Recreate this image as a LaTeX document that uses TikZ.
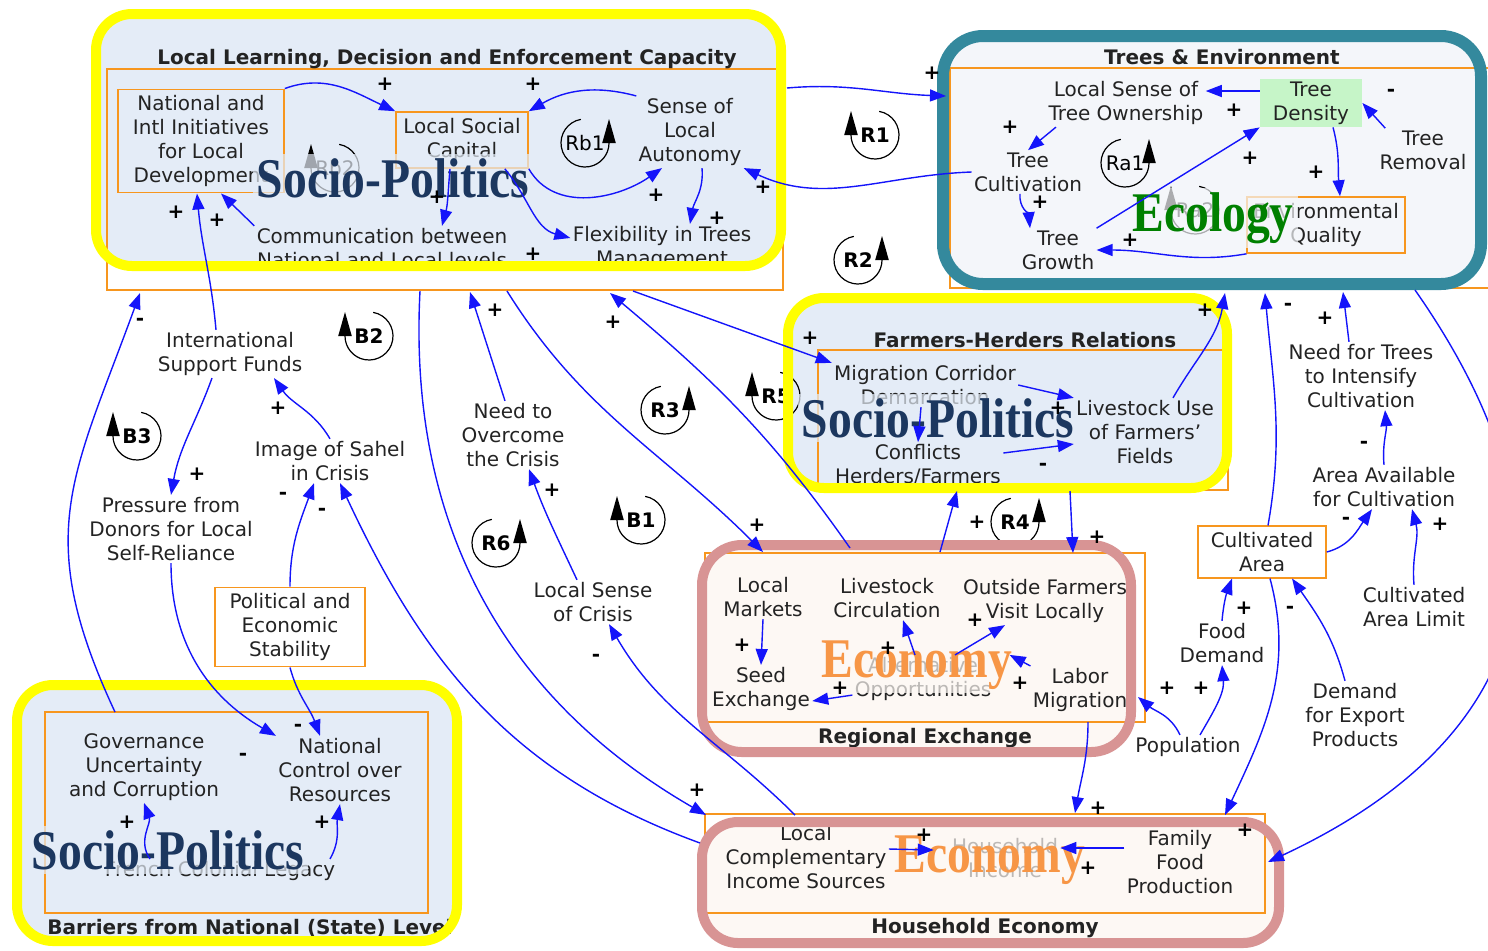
\documentclass[tikz,border=0pt]{standalone}
\usepackage{fontspec}
\setmainfont{DejaVu Sans}
\newfontfamily\wmfont{Liberation Serif}
\usetikzlibrary{arrows.meta,calc}

\definecolor{linkblue}{RGB}{20,20,250}
\definecolor{hiyellow}{RGB}{255,255,0}
\definecolor{ecoteal}{RGB}{52,137,157}
\definecolor{econpink}{RGB}{216,148,148}
\definecolor{frameorange}{RGB}{247,150,30}
\definecolor{panelblue}{RGB}{228,236,247}
\definecolor{panelgrey}{RGB}{244,246,250}
\definecolor{panelpink}{RGB}{253,248,244}
\definecolor{densgreen}{RGB}{198,245,200}
\definecolor{polnavy}{RGB}{28,55,95}
\definecolor{ecogreen}{RGB}{0,128,0}
\definecolor{econorange}{RGB}{247,150,70}
\definecolor{vartext}{RGB}{35,35,35}

% loop markers: arrow head on the right / on the left
\newcommand{\loopccw}[3]{%
  \node[looptext] (#1) at (#2) {#3};
  \draw[loopline] ($(#1)+(100:12pt)$) arc[start angle=100,end angle=360,radius=12pt];
  \fill ($(#1)+(12pt,0pt)$) ++(-3.4pt,0pt) -- ++(6.8pt,0pt) -- ++(-3.4pt,12pt) -- cycle;}
\newcommand{\loopcw}[3]{%
  \node[looptext] (#1) at (#2) {#3};
  \draw[loopline] ($(#1)+(80:12pt)$) arc[start angle=80,end angle=-180,radius=12pt];
  \fill ($(#1)+(-12pt,0pt)$) ++(-3.4pt,0pt) -- ++(6.8pt,0pt) -- ++(-3.4pt,12pt) -- cycle;}

\begin{document}
\begin{tikzpicture}[x=0.5pt,y=-0.5pt,
    var/.style={align=center,font=\fontsize{10}{12}\selectfont,text=vartext,inner sep=1pt},
    boxvar/.style={var,draw=frameorange,line width=0.8pt,inner sep=3pt},
    link/.style={draw=linkblue,line width=0.7pt,-{Triangle[length=8pt,width=6pt]}},
    pol/.style={font=\fontsize{10}{10}\selectfont\bfseries,inner sep=0pt},
    looptext/.style={font=\fontsize{10}{10}\selectfont\bfseries,inner sep=0pt},
    loopline/.style={line width=0.6pt},
    grouptitle/.style={font=\fontsize{10}{12}\selectfont\bfseries,text=vartext},
    groupframe/.style={draw=frameorange,line width=1pt},
    watermark/.style={font=\wmfont\bfseries\fontsize{28}{30}\selectfont,text=polnavy,
      inner sep=2pt,fill=panelblue,fill opacity=0.7,text opacity=1}]
\useasboundingbox (0,0) rectangle (1488,950);

% panels
\fill[panelblue,rounded corners=18pt] (96,14) rectangle (781,266);
\fill[panelgrey,rounded corners=20pt] (943,36) rectangle (1481,284);
\fill[panelblue,rounded corners=18pt] (788,298) rectangle (1227,488);
\fill[panelpink,rounded corners=20pt] (702,545) rectangle (1131,752);
\fill[panelpink,rounded corners=18pt] (702,822) rectangle (1279,943);
\fill[panelblue,rounded corners=18pt] (17,685) rectangle (457,941);

\draw[groupframe] (107,69) rectangle (783,290);
\draw[groupframe] (950,68) rectangle (1495,288);
\draw[groupframe] (818,350) rectangle (1228,490);
\draw[groupframe] (705,553) rectangle (1145,722);
\draw[groupframe] (705,814) rectangle (1265,913);
\draw[groupframe] (45,712) rectangle (428,913);

\node[grouptitle] (t-capacity) at (447,59) {Local Learning, Decision and Enforcement Capacity};
\node[grouptitle] (t-trees) at (1222,57) {Trees \& Environment};
\node[grouptitle] (t-fhr) at (1025,340) {Farmers-Herders Relations};
\node[grouptitle] (t-regional) at (925,738) {Regional Exchange};
\node[grouptitle] (t-household) at (985,928) {Household Economy};
\node[grouptitle] (t-barriers) at (250,928) {Barriers from National (State) Level};

% loops
\loopcw{r1}{875,135}{R1}
\loopccw{r2}{858,260}{R2}
\loopcw{b2}{369,336}{B2}
\loopcw{b3}{137,436}{B3}
\loopccw{r3}{665,410}{R3}
\loopcw{r5}{776,396}{R5}
\loopcw{b1}{641,520}{B1}
\loopccw{r6}{496,543}{R6}
\loopccw{r4}{1015,522}{R4}
\loopccw{rb1}{585,143}{\mdseries Rb1}
\loopcw{rb2}{335,168}{\mdseries Rb2}
\loopccw{ra1}{1125,163}{\mdseries Ra1}
\loopcw{ra2}{1195,210}{\mdseries Ra2}

% capacity
\node[boxvar,minimum width=83pt,minimum height=45pt] (natinit) at (201,141) {National and\\Intl Initiatives\\for Local\\Development};
\node[boxvar,minimum width=66pt,minimum height=28pt] (socap) at (462,140) {Local Social\\Capital};
\node[var] (autonomy) at (690,132) {Sense of\\Local\\Autonomy};
\node[var] (comm) at (382,248) {Communication between\\National and Local levels};
\node[var] (flex) at (662,248) {Flexibility in Trees\\Management};

% trees
\node[var] (ownership) at (1126,103) {Local Sense of\\Tree Ownership};
\node[var,fill=densgreen,minimum width=51pt,minimum height=24pt] (density) at (1311,103) {Tree\\Density};
\node[var] (removal) at (1423,150) {Tree\\Removal};
\node[var] (cultivation) at (1028,172) {Tree\\Cultivation};
\node[var] (growth) at (1058,250) {Tree\\Growth};
\node[boxvar,minimum width=78pt,minimum height=28pt] (envq) at (1326,225) {Environmental\\Quality};

% farmers-herders
\node[var] (migr) at (925,385) {Migration Corridor\\Demarcation};
\node[var] (livest) at (1145,432) {Livestock Use\\of Farmers'\\Fields};
\node[var] (conflicts) at (918,465) {Conflicts\\Herders/Farmers};

% middle
\node[var] (intl) at (230,354) {International\\Support Funds};
\node[var] (pressure) at (171,529) {Pressure from\\Donors for Local\\Self-Reliance};
\node[var] (image) at (330,461) {Image of Sahel\\in Crisis};
\node[boxvar,minimum width=75pt,minimum height=34pt] (stability) at (290,627) {Political and\\Economic\\Stability};
\node[var] (need) at (513,435) {Need to\\Overcome\\the Crisis};
\node[var] (crisis) at (593,602) {Local Sense\\of Crisis};

% right
\node[var] (needtrees) at (1361,376) {Need for Trees\\to Intensify\\Cultivation};
\node[var] (areaavail) at (1384,487) {Area Available\\for Cultivation};
\node[boxvar,minimum width=64pt,minimum height=25pt] (cultarea) at (1262,552) {Cultivated\\Area};
\node[var] (arealimit) at (1414,607) {Cultivated\\Area Limit};
\node[var] (food) at (1222,643) {Food\\Demand};
\node[var] (population) at (1188,747) {Population};
\node[var] (export) at (1355,715) {Demand\\for Export\\Products};

% regional exchange
\node[var] (markets) at (763,597) {Local\\Markets};
\node[var] (livcirc) at (887,598) {Livestock\\Circulation};
\node[var] (outside) at (1045,601) {Outside Farmers\\Visit Locally};
\node[var] (seed) at (761,689) {Seed\\Exchange};
\node[var] (altopp) at (923,679) {Alternative\\Opportunities};
\node[var] (labor) at (1080,690) {Labor\\Migration};

% household
\node[var] (compl) at (806,857) {Local\\Complementary\\Income Sources};
\node[var] (income) at (1005,858) {Household\\Income};
\node[var] (family) at (1180,862) {Family\\Food\\Production};

% barriers
\node[var] (govern) at (144,767) {Governance\\Uncertainty\\and Corruption};
\node[var] (natctrl) at (340,770) {National\\Control over\\Resources};
\node[var] (french) at (220,871) {French Colonial Legacy};

% domain labels
\node[watermark] (wm-cap) at (393,178) {\scalebox{0.85}[1]{Socio-Politics}};
\node[watermark] (wm-fhr) at (938,418) {\scalebox{0.85}[1]{Socio-Politics}};
\node[watermark] (wm-bar) at (168,850) {\scalebox{0.85}[1]{Socio-Politics}};
\node[watermark,fill=panelgrey,text=ecogreen] (wm-eco) at (1213,218) {\scalebox{0.85}[1]{Ecology}};
\node[watermark,fill=panelpink,text=econorange] (wm-reg) at (917,665) {\scalebox{0.85}[1]{Economy}};
\node[watermark,fill=panelpink,text=econorange] (wm-hh) at (990,860) {\scalebox{0.85}[1]{Economy}};

% group borders
\draw[hiyellow,line width=5pt,rounded corners=18pt] (96,14) rectangle (781,266);
\draw[ecoteal,line width=6pt,rounded corners=20pt] (943,36) rectangle (1481,284);
\draw[hiyellow,line width=5pt,rounded corners=18pt] (788,298) rectangle (1227,488);
\draw[econpink,line width=5pt,rounded corners=20pt] (702,545) rectangle (1131,752);
\draw[econpink,line width=5pt,rounded corners=18pt] (702,822) rectangle (1279,943);
\draw[hiyellow,line width=5pt,rounded corners=18pt] (17,685) rectangle (457,941);

% attachment points on the groups
\coordinate (cap-e) at (787,88);
\coordinate (cap-s0) at (420,291);
\coordinate (cap-s1) at (470,292);
\coordinate (cap-s2) at (507,291);
\coordinate (cap-s3) at (633,291);
\coordinate (cap-s4) at (610,293);
\coordinate (cap-sw) at (140,293);
\coordinate (trees-w) at (946,96);
\coordinate (trees-s1) at (1225,293);
\coordinate (trees-s2) at (1265,293);
\coordinate (trees-s3) at (1343,292);
\coordinate (trees-s4) at (1415,290);
\coordinate (fhr-s1) at (957,491);
\coordinate (fhr-s2) at (1070,491);
\coordinate (reg-n1) at (763,552);
\coordinate (reg-n2) at (850,548);
\coordinate (reg-n3) at (940,552);
\coordinate (reg-n4) at (1073,553);
\coordinate (reg-e) at (1138,697);
\coordinate (reg-s) at (1088,722);
\coordinate (hh-nw) at (706,815);
\coordinate (hh-w) at (700,843);
\coordinate (hh-n1) at (1075,813);
\coordinate (hh-n2) at (795,815);
\coordinate (hh-n3) at (1225,815);
\coordinate (hh-e) at (1268,862);
\coordinate (bar-n1) at (115,712);

\begin{scope}[every edge/.style={link}]
  % capacity
  \path (natinit.north east) edge[out=20,in=155] (socap.north west);
  \path (autonomy.north west) edge[out=165,in=30] (socap.north east);
  \path (socap.south east) edge[out=-60,in=-145] ([xshift=-14pt]autonomy.south);
  \path ([xshift=-6pt]socap.south) edge[out=-95,in=75] ([xshift=30pt]comm.north);
  \path ([xshift=-12pt]socap.south east) edge[out=-50,in=165] ([yshift=5pt]flex.west);
  \path ([xshift=6pt]autonomy.south) edge[out=-85,in=80] ([xshift=14pt]flex.north);
  \path (comm.north west) edge ([xshift=10pt]natinit.south);
  \path ([xshift=-7pt]intl.north) edge[out=95,in=-85] ([xshift=-2pt]natinit.south);
  \path (cap-e) edge[out=5,in=178] (trees-w);
  \path (cultivation.west) edge[out=182,in=-25] (autonomy.south east);
  % between the groups
  \path (cap-s3) edge (migr.north west);
  \path ([xshift=-4pt]need.north) edge (cap-s1);
  \path (cap-s2) edge[out=-58,in=135] (reg-n1);
  \path (reg-n2) edge[out=125,in=-40] (cap-s4);
  \path (cap-s0) edge[out=-93,in=150] (hh-nw);
  \path (hh-w) edge[out=160,in=-65] ([xshift=5pt]image.south);
  \path (hh-n2) edge[out=135,in=-60] ([xshift=8pt]crisis.south);
  \path ([xshift=-8pt]crisis.north) edge[out=115,in=-70] ([xshift=8pt]need.south);
  \path (bar-n1) edge[out=115,in=-110,looseness=1.2] (cap-sw);
  \path ([xshift=-9pt]intl.south) edge[out=-110,in=80] (pressure.north);
  \path (image.north) edge[out=120,in=-55] ([xshift=22pt]intl.south);
  \path (stability.north) edge[out=90,in=-110] ([xshift=-8pt]image.south);
  \path (pressure.south) edge[out=-90,in=150] (natctrl.north west);
  \path (stability.south) edge[out=-75,in=110] ([xshift=-10pt]natctrl.north);
  \path ([xshift=-35pt]french.north) edge[out=125,in=-70] (govern.south);
  \path ([xshift=55pt]french.north) edge[out=60,in=-100] (natctrl.south);
  % trees
  \path ([yshift=6pt]density.west) edge ([yshift=6pt]ownership.east);
  \path ([xshift=-35pt]ownership.south) edge (cultivation.north);
  \path ([xshift=-4pt]cultivation.south) edge[out=-95,in=95] ([xshift=-14pt]growth.north);
  \path (growth.north east) edge (density.south west);
  \path ([xshift=11pt]density.south) edge[out=-75,in=95] ([xshift=7pt]envq.north);
  \path (envq.south west) edge[out=-170,in=0] (growth.east);
  \path ([xshift=4pt]removal.north west) edge (density.east);
  % farmers-herders
  \path (migr.east) edge (livest.north west);
  \path ([xshift=-2pt]migr.south) edge (conflicts.north);
  \path ([yshift=6pt]conflicts.east) edge ([yshift=-6pt]livest.west);
  \path ([xshift=14pt]livest.north) edge[out=60,in=-100] (trees-s1);
  % right
  \path ([xshift=3pt]cultarea.north) edge[out=80,in=-85] (trees-s2);
  \path ([xshift=-6pt]needtrees.north) edge (trees-s3);
  \path (trees-s4) edge[out=-55,in=25,looseness=1.3] (hh-e);
  \path ([xshift=4pt]cultarea.south) edge[out=-75,in=65] (hh-n3);
  \path (areaavail.north) edge[out=95,in=-85] ([xshift=12pt]needtrees.south);
  \path (cultarea.east) edge[out=15,in=-125] ([xshift=-6pt]areaavail.south);
  \path (arealimit.north) edge[out=95,in=-75] ([xshift=14pt]areaavail.south);
  \path (food.north) edge[out=85,in=-110] ([xshift=-15pt]cultarea.south);
  \path ([xshift=6pt]population.north) edge[out=60,in=-85] (food.south);
  \path ([xshift=-4pt]population.north) edge[out=115,in=-40] (reg-e);
  \path ([xshift=-5pt]export.north) edge[out=105,in=-55] ([xshift=15pt]cultarea.south);
  % regional exchange
  \path (markets.south) edge (seed.north);
  \path ([yshift=4pt]altopp.south west) edge ([yshift=-6pt]seed.east);
  \path ([xshift=-4pt]altopp.north) edge ([xshift=8pt]livcirc.south);
  \path ([xshift=16pt]altopp.north) edge ([xshift=-20pt]outside.south);
  \path (labor.north west) edge ([xshift=8pt]altopp.north east);
  \path (reg-n3) edge (fhr-s1);
  \path (fhr-s2) edge (reg-n4);
  \path (reg-s) edge[out=-90,in=80] (hh-n1);
  % household
  \path ([yshift=4pt]compl.east) edge ([xshift=-8pt,yshift=4pt]income.west);
  \path ([yshift=7pt]family.west) edge ([yshift=5pt]income.east);
\end{scope}

\begin{scope}[every node/.style={pol}]
  \node (p1) at (385,84) {+};
  \node (p2) at (533,84) {+};
  \node (p3) at (656,195) {+};
  \node (p4) at (717,218) {+};
  \node (p5) at (763,187) {+};
  \node (p6) at (176,212) {+};
  \node (p7) at (217,220) {+};
  \node (p8) at (533,254) {+};
  \node (p9) at (437,197) {+};
  \node (p10) at (932,73) {+};
  \node (p11) at (1010,127) {+};
  \node (p12) at (1040,202) {+};
  \node (p13) at (1234,110) {+};
  \node (p14) at (1250,158) {+};
  \node (p15) at (1316,172) {+};
  \node (p16) at (1130,240) {+};
  \node (p17) at (1391,93) {-};
  \node (p18) at (810,338) {+};
  \node (p19) at (1205,310) {+};
  \node (p20) at (1043,467) {-};
  \node (p21) at (1058,408) {+};
  \node (p22) at (495,310) {+};
  \node (p23) at (613,322) {+};
  \node (p24) at (757,525) {+};
  \node (p25) at (552,490) {+};
  \node (p26) at (596,658) {-};
  \node (p27) at (697,790) {+};
  \node (p28) at (977,522) {+};
  \node (p29) at (1097,537) {+};
  \node (p30) at (140,322) {-};
  \node (p31) at (197,474) {+};
  \node (p32) at (278,408) {+};
  \node (p33) at (283,496) {-};
  \node (p34) at (322,512) {-};
  \node (p35) at (243,757) {-};
  \node (p36) at (298,728) {-};
  \node (p37) at (127,822) {+};
  \node (p38) at (322,822) {+};
  \node (p39) at (1288,307) {-};
  \node (p40) at (1325,318) {+};
  \node (p41) at (1364,445) {-};
  \node (p42) at (1346,521) {-};
  \node (p43) at (1440,524) {+};
  \node (p44) at (1244,608) {+};
  \node (p45) at (1290,610) {-};
  \node (p46) at (1167,688) {+};
  \node (p47) at (1201,688) {+};
  \node (p48) at (1098,808) {+};
  \node (p49) at (1245,830) {+};
  \node (p50) at (742,645) {+};
  \node (p51) at (840,688) {+};
  \node (p52) at (888,648) {+};
  \node (p53) at (975,620) {+};
  \node (p54) at (1020,683) {+};
  \node (p55) at (924,835) {+};
  \node (p56) at (1088,868) {+};
\end{scope}
\end{tikzpicture}
\end{document}
